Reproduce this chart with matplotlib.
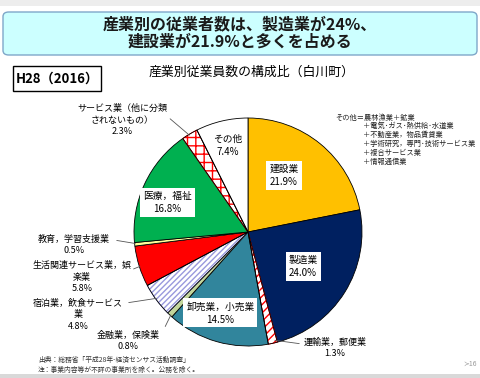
import numpy as np
import matplotlib
matplotlib.use('Agg')
import matplotlib.pyplot as plt
from matplotlib.patches import FancyBboxPatch, Rectangle, Wedge

plt.rcParams['font.family'] = ['Noto Sans CJK JP', 'DejaVu Sans']
plt.rcParams['hatch.linewidth'] = 1.0

# data, clockwise from 12 o'clock
labels = ['建設業', '製造業', '運輸業，郵便業', '卸売業，小売業', '金融業，保険業',
          '宿泊業，飲食サービス業', '生活関連サービス業，娯楽業', '教育，学習支援業',
          '医療，福祉', 'サービス業（他に分類されないもの）', 'その他']
shares = [21.9, 24.0, 1.3, 14.5, 0.8, 4.8, 5.8, 0.5, 16.8, 2.3, 7.4]
colors = ['#FFC000', '#002060', 'white', '#31859C', '#C3D69B',
          'white', '#FF0000', '#FFFF99', '#00B050', 'white', 'white']
hatches = [None, None, '////', None, None, '//////', None, None, None, '++', None]
hatch_colors = [None, None, '#FF0000', None, None, '#9999DD', None, None, None, '#FF0000', None]

note_head = 'その他＝農林漁業＋鉱業'
note_lines = ['＋電気･ガス･熱供給･水道業', '＋不動産業，物品賃貸業',
              '＋学術研究，専門･技術サービス業', '＋複合サービス業', '＋情報通信業']

W, H = 480, 378
fig = plt.figure(figsize=(W / 100, H / 100), dpi=100)
fig.patch.set_facecolor('white')


def fx(px):
    return px / W


def fy(py):
    return 1 - py / H


# top gray strip and bottom gray line
fig.patches.append(Rectangle((0, fy(6)), 1, 6 / H, transform=fig.transFigure,
                             facecolor='#EDEDED', edgecolor='none'))
fig.patches.append(Rectangle((0, 0), 1, 4 / H, transform=fig.transFigure,
                             facecolor='#D9D9D9', edgecolor='none'))

# title box
fig.patches.append(FancyBboxPatch((fx(3), fy(55)), fx(474), 43 / H,
                                  boxstyle='round,pad=0,rounding_size=0.012',
                                  transform=fig.transFigure, facecolor='#CCFFFF',
                                  edgecolor='#7FA7C9', linewidth=1.0))
fig.text(fx(240), fy(33), '産業別の従業者数は、製造業が24%、\n建設業が21.9%と多くを占める',
         ha='center', va='center', fontsize=11.5, fontweight='bold', color='#1A1A1A',
         linespacing=1.05)

# year box
fig.patches.append(Rectangle((fx(13), fy(91)), fx(88), 25 / H, transform=fig.transFigure,
                             facecolor='white', edgecolor='black', linewidth=1.0))
fig.text(fx(57), fy(78.5), 'H28（2016）', ha='center', va='center', fontsize=9.5,
         fontweight='bold', color='black')
fig.text(fx(252), fy(72), '産業別従業員数の構成比（白川町）', ha='center', va='center',
         fontsize=9.3, color='black')

# pie
cx, cy, r = 248, 232, 114
ax = fig.add_axes([fx(cx - r), fy(cy + r), 2 * r / W, 2 * r / H])
wedges, _ = ax.pie(shares, colors=colors, startangle=90, counterclock=False,
                   wedgeprops=dict(edgecolor='black', linewidth=0.6))
for w, h, hc in zip(wedges, hatches, hatch_colors):
    if h:
        w.set_hatch(h)
        w.set_edgecolor(hc)
        # outline drawn separately in black
        ax.add_patch(Wedge(w.center, w.r, w.theta1, w.theta2, facecolor='none',
                           edgecolor='black', linewidth=0.6))
ax.set_xlim(-1, 1)
ax.set_ylim(-1, 1)
ax.set_aspect('auto')
ax.axis('off')


def mid(i, rr=1.0, off=0.0):
    w = wedges[i]
    a = np.deg2rad((w.theta1 + w.theta2) / 2 + off)
    return rr * np.cos(a), rr * np.sin(a)


box = dict(boxstyle='square,pad=0.3', facecolor='white', edgecolor='none')
# index -> (radius, angle offset, boxed)
inside = {0: (0.59, 7, True), 1: (0.57, 0, True), 3: (0.75, -3, True),
          8: (0.75, 5, True), 10: (0.78, 0, False)}
for i, (rr, off, boxed) in inside.items():
    x, y = mid(i, rr, off)
    name = 'その他' if i == 10 else labels[i]
    ax.text(x, y, f'{name}\n{shares[i]}%', ha='center', va='center', fontsize=7,
            linespacing=1.4, bbox=box if boxed else None)

# outside labels with leader lines: index -> (text px, text, line start px)
outside = {
    9: ((122, 120), 'サービス業（他に分類\nされないもの）\n2.3%', (168, 117)),
    7: ((74, 245), '教育，学習支援業\n0.5%', (114, 240)),
    6: ((82, 277), '生活関連サービス業，娯\n楽業\n5.8%', (131, 270)),
    5: ((78, 315), '宿泊業，飲食サービス\n業\n4.8%', (126, 303)),
    4: ((128, 341), '金融業，保険業\n0.8%', (164, 329)),
    2: ((335, 348), '運輸業，郵便業\n1.3%', (302, 344)),
}
for i, ((tx, ty), txt, (lx, ly)) in outside.items():
    ex, ey = mid(i, 0.97)
    fig.text(fx(tx), fy(ty), txt, ha='center', va='center', fontsize=6.5, linespacing=1.35)
    ax.annotate('', xy=(ex, ey), xytext=(fx(lx), fy(ly)), textcoords='figure fraction',
                arrowprops=dict(arrowstyle='-', color='#555555', linewidth=0.6))

# note on the right
fig.text(fx(335), fy(118), note_head, ha='left', va='center', fontsize=5.2, color='#222222')
fig.text(fx(363), fy(122), '\n'.join(note_lines), ha='left', va='top', fontsize=5.2,
         color='#222222', linespacing=1.15)

# source
fig.text(fx(38), fy(365), '出典：総務省「平成28年-経済センサス活動調査」\n注：事業内容等が不詳の事業所を除く。公務を除く。',
         ha='left', va='center', fontsize=4.9, color='#333333', linespacing=1.35)
fig.text(fx(470), fy(364), '≻16', ha='center', va='center', fontsize=5, color='#999999')

fig.savefig('out.png', dpi=100)
